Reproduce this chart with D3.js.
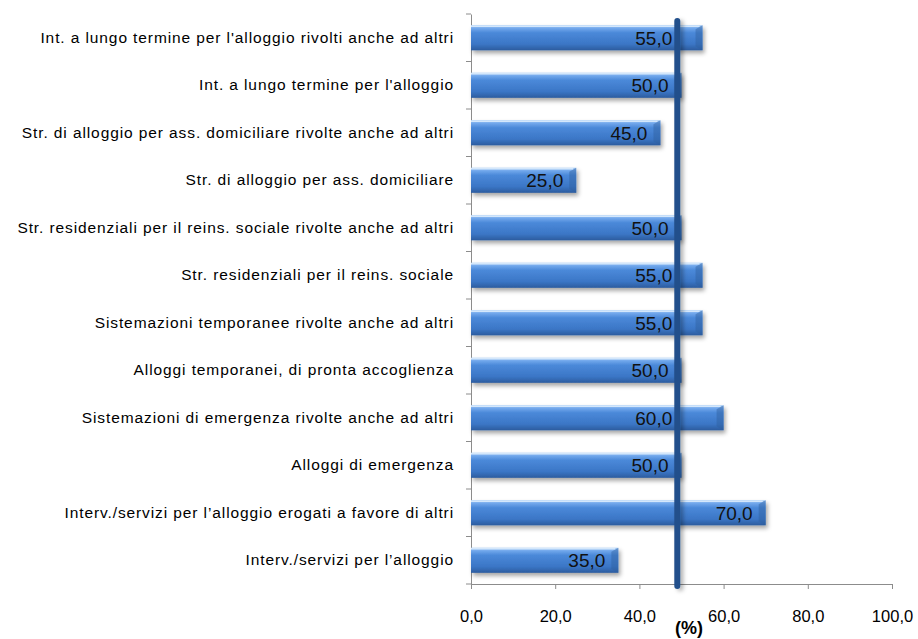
<!DOCTYPE html>
<html>
<head>
<meta charset="utf-8">
<script src="https://cdn.jsdelivr.net/npm/d3@7"></script>
<style>
  body { margin: 0; background: #fff; }
  svg text { font-family: "Liberation Sans", Arial, sans-serif; }
</style>
</head>
<body>
<svg id="chart" width="918" height="639"></svg>
<script>
"use strict";
// categories top to bottom
var categories = [
  "Int. a lungo termine per l'alloggio rivolti anche ad altri",
  "Int. a lungo termine per l'alloggio ",
  "Str. di alloggio per ass. domiciliare rivolte anche ad altri",
  "Str. di alloggio per ass. domiciliare",
  "Str. residenziali per il reins. sociale rivolte anche ad altri ",
  "Str. residenziali per il reins. sociale",
  "Sistemazioni temporanee rivolte anche ad altri ",
  "Alloggi temporanei, di pronta accoglienza ",
  "Sistemazioni di emergenza rivolte anche ad altri ",
  "Alloggi di emergenza",
  "Interv./servizi per l\u2019alloggio erogati a favore di altri",
  "Interv./servizi per l\u2019alloggio"
];
var values = [55, 50, 45, 25, 50, 55, 55, 50, 60, 50, 70, 35];
var refValue = 49;
var xTicks = [0, 20, 40, 60, 80, 100];

var svg = d3.select("#chart");
var plotLeft = 471, plotRight = 892, plotTop = 14, plotBottom = 584;

var x = d3.scaleLinear().domain([0, 100]).range([plotLeft, plotRight]);
var y = d3.scaleBand().domain(categories).range([plotTop, plotBottom]).paddingInner(0.47).paddingOuter(0.235);
var fmt = function (v) { return d3.format(".1f")(v).replace(".", ","); };

var defs = svg.append("defs");
var grad = defs.append("linearGradient").attr("id", "barGrad")
  .attr("x1", 0).attr("y1", 0).attr("x2", 0).attr("y2", 1);
[["0%", "#b0d2f7"], ["12%", "#72a8ec"], ["30%", "#4b89d9"], ["75%", "#3b76c6"], ["100%", "#2c5c9e"]]
  .forEach(function (s) { grad.append("stop").attr("offset", s[0]).attr("stop-color", s[1]); });

var shadow = defs.append("filter").attr("id", "shadow")
  .attr("x", "-10%").attr("y", "-30%").attr("width", "130%").attr("height", "190%");
shadow.append("feDropShadow").attr("dx", 2).attr("dy", 3).attr("stdDeviation", 2)
  .attr("flood-color", "#000").attr("flood-opacity", 0.35);

// line shadow needs user space (zero width bbox)
var lineShadow = defs.append("filter").attr("id", "lineShadow").attr("filterUnits", "userSpaceOnUse")
  .attr("x", 0).attr("y", 0).attr("width", 918).attr("height", 639);
lineShadow.append("feDropShadow").attr("dx", 3).attr("dy", 2).attr("stdDeviation", 2)
  .attr("flood-color", "#000").attr("flood-opacity", 0.3);

// axes
var yAxis = d3.axisLeft(y).tickSize(0).tickFormat(function (d) { return d; });
var gy = svg.append("g").attr("transform", "translate(" + plotLeft + ",0)").call(yAxis);
gy.select(".domain").attr("stroke", "#8c8c8c");
gy.selectAll(".tick text").attr("x", -17).attr("font-size", 15.5).attr("fill", "#000").attr("letter-spacing", "0.9px");

// band boundary ticks on the category axis
var bounds = d3.range(categories.length + 1).map(function (i) { return plotTop + i * y.step(); });
svg.append("g").selectAll("line").data(bounds).join("line")
  .attr("x1", plotLeft - 5).attr("x2", plotLeft)
  .attr("y1", function (d) { return d; }).attr("y2", function (d) { return d; })
  .attr("stroke", "#8c8c8c");

var xAxis = d3.axisBottom(x).tickValues(xTicks).tickSize(5).tickFormat(fmt);
var gx = svg.append("g").attr("transform", "translate(0," + plotBottom + ")").call(xAxis);
gx.select(".domain").attr("stroke", "#8c8c8c");
gx.selectAll(".tick line").attr("stroke", "#8c8c8c");
gx.selectAll(".tick text").attr("font-size", 16.5).attr("fill", "#000").attr("y", 38).attr("dy", "0");

svg.append("text").attr("x", 689).attr("y", 634).attr("text-anchor", "middle")
  .attr("font-size", 18).attr("font-weight", "bold").text("(%)");

// bars
var bars = svg.append("g").selectAll("g").data(values).join("g");
bars.append("rect")
  .attr("x", x(0))
  .attr("y", function (d, i) { return y(categories[i]); })
  .attr("width", function (d) { return x(d) - x(0); })
  .attr("height", y.bandwidth())
  .attr("fill", "url(#barGrad)")
  .attr("filter", "url(#shadow)");
// bevel on bar ends
bars.append("path")
  .attr("d", function (d, i) {
    var x1 = x(d), y0 = y(categories[i]), h = y.bandwidth();
    return "M" + (x1 - 7) + "," + (y0 + 4) + "L" + x1 + "," + y0 + "L" + x1 + "," + (y0 + h) + "L" + (x1 - 7) + "," + (y0 + h - 4) + "Z";
  })
  .attr("fill", "#2e5f9e").attr("opacity", 0.45);
bars.append("line")
  .attr("x1", x(0)).attr("x2", function (d) { return x(d) - 3; })
  .attr("y1", function (d, i) { return y(categories[i]) + 1; })
  .attr("y2", function (d, i) { return y(categories[i]) + 1; })
  .attr("stroke", "#d4e7fb").attr("stroke-width", 1.5);

// reference line
svg.append("line")
  .attr("x1", x(refValue)).attr("x2", x(refValue))
  .attr("y1", 21).attr("y2", plotBottom + 2)
  .attr("stroke", "#22508b").attr("stroke-width", 6).attr("stroke-linecap", "round")
  .attr("filter", "url(#lineShadow)");

// value labels
var lineX = x(refValue);
svg.append("g").selectAll("text").data(values).join("text")
  .attr("x", function (d) {
    var end = x(d) - 13;
    return (end > lineX - 10 && x(d) - 48 < lineX) ? Math.min(end, lineX - 5) : end;
  })
  .attr("y", function (d, i) { return y(categories[i]) + y.bandwidth() / 2; })
  .attr("dy", "0.36em")
  .attr("text-anchor", "end")
  .attr("font-size", 19)
  .attr("fill", "#111")
  .text(fmt);
</script>
</body>
</html>
